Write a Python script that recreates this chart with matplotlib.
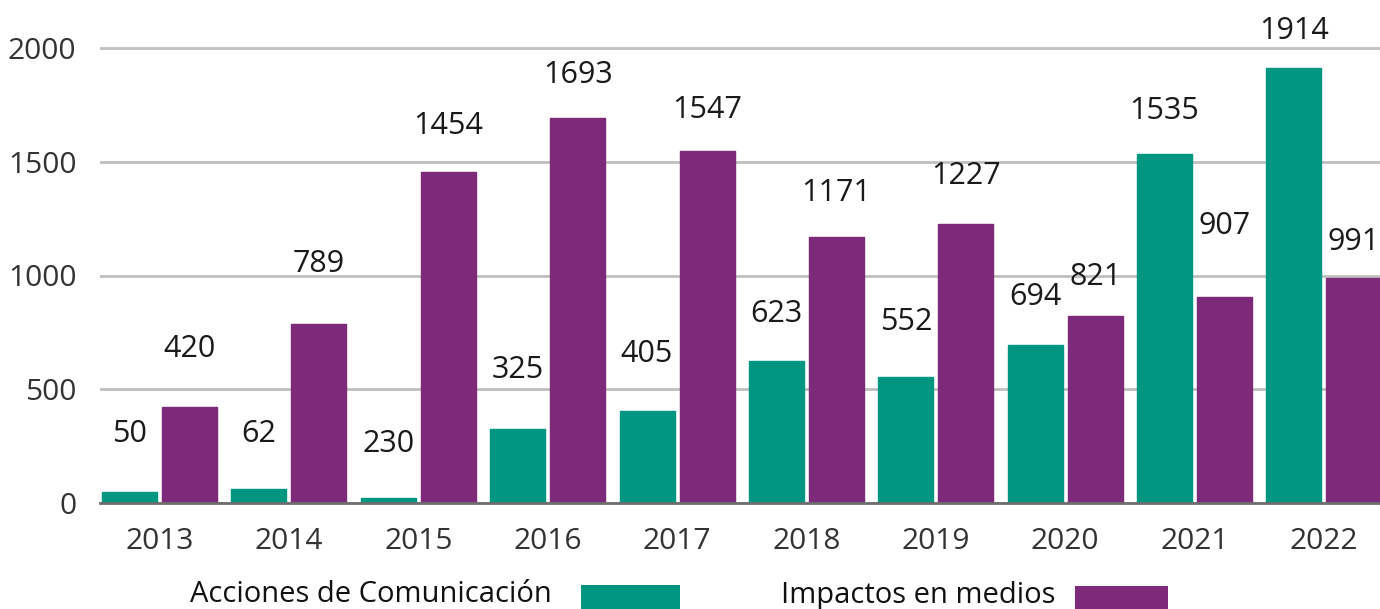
import matplotlib
matplotlib.use("Agg")
import matplotlib.pyplot as plt
from matplotlib.patches import Rectangle
import numpy as np

years = ["2013", "2014", "2015", "2016", "2017", "2018", "2019", "2020", "2021", "2022"]
acciones = [50, 62, 22, 325, 405, 623, 552, 694, 1535, 1914]
acciones_labels = ["50", "62", "230", "325", "405", "623", "552", "694", "1535", "1914"]
impactos = [420, 789, 1454, 1693, 1547, 1171, 1227, 821, 907, 991]
impactos_labels = [str(v) for v in impactos]
series_names = ["Acciones de Comunicación", "Impactos en medios"]

# label offsets above bar tops (pixels), layout only
acc_label_gap = [61, 58, 57, 62, 60, 50, 58, 51, 46, 40]
imp_label_gap = [61, 63, 49, 46, 44, 47, 51, 42, 74, 39]
GAP_FIX = -3

GREEN = "#009682"
PURPLE = "#7d2a7a"
FONT = "Open Sans"
plt.rcParams["font.family"] = [FONT, "DejaVu Sans"]

W, H = 1380, 609
fig = plt.figure(figsize=(W / 100, H / 100), dpi=100)
ax = fig.add_axes([100 / W, (H - 503) / H, 1280 / W, 503 / H])

x = np.arange(len(years))
bw = 0.425
off = 0.232
b1 = ax.bar(x - off, acciones, bw, color=GREEN, edgecolor=GREEN, linewidth=1.0, joinstyle="round", zorder=3)
b2 = ax.bar(x + off, impactos, bw, color=PURPLE, edgecolor=PURPLE, linewidth=1.0, joinstyle="round", zorder=3)

for bars, labels, gaps in ((b1, acciones_labels, acc_label_gap), (b2, impactos_labels, imp_label_gap)):
    for rect, lab, g in zip(bars, labels, gaps):
        ax.annotate(lab, (rect.get_x() + rect.get_width() / 2, rect.get_height()),
                    xytext=(0, (g + GAP_FIX) * 0.72), textcoords="offset points", ha="center", va="center",
                    fontsize=22, color="#1a1a1a", annotation_clip=False)

ax.set_xlim(-0.46, 9.433)
ax.set_ylim(0, 503 / 455 * 2000)
ax.set_yticks([0, 500, 1000, 1500, 2000])
ax.set_xticks(x)
ax.set_xticklabels(years)
ax.tick_params(axis="both", length=0, labelsize=21.5, labelcolor="#333333")
ax.tick_params(axis="x", pad=17)
ax.tick_params(axis="y", pad=17)
ax.grid(axis="y", color="#c0c0c0", linewidth=2, zorder=0)
for s in ["top", "right", "left"]:
    ax.spines[s].set_visible(False)
ax.spines["bottom"].set_color("#6e6e6e")
ax.spines["bottom"].set_linewidth(2)
ax.spines["bottom"].set_zorder(4)

# legend
ly = 1 - 595 / H
fig.text(190 / W, ly, series_names[0], fontsize=21, color="#111111", va="center", ha="left")
fig.patches.append(Rectangle((581 / W, 1 - 609 / H), 99 / W, 24 / H, transform=fig.transFigure,
                             facecolor=GREEN, edgecolor="none", figure=fig))
fig.text(781 / W, ly, series_names[1], fontsize=21, color="#111111", va="center", ha="left")
fig.patches.append(Rectangle((1075 / W, 1 - 609 / H), 93 / W, 23 / H, transform=fig.transFigure,
                             facecolor=PURPLE, edgecolor="none", figure=fig))

fig.savefig("out.png", dpi=100)
